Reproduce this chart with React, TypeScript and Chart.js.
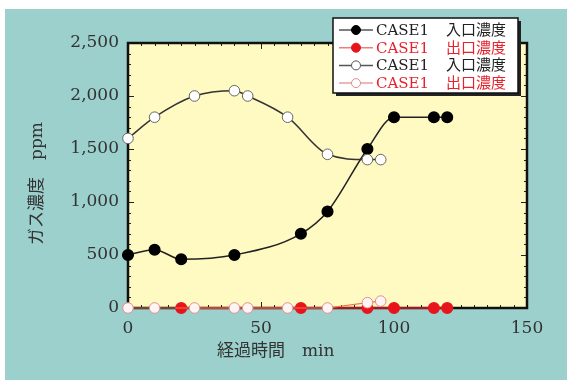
import React, { useEffect, useRef } from "react";
import { Chart, registerables } from "chart.js";

Chart.register(...registerables);

// ---- data ----
const inlet1Times = [0, 10, 20, 40, 65, 75, 90, 100, 115, 120];
const inlet1Values = [500, 550, 460, 500, 700, 910, 1500, 1800, 1800, 1800];
const outlet1Times = [20, 65, 90, 100, 115, 120];
const outlet1Values = [0, 0, 0, 0, 0, 0];
const inlet2Times = [0, 10, 25, 40, 45, 60, 75, 90, 95];
const inlet2Values = [1600, 1800, 2000, 2050, 2000, 1800, 1450, 1400, 1400];
const outlet2Times = [0, 10, 25, 40, 45, 60, 75, 90, 95];
const outlet2Values = [0, 0, 0, 0, 0, 0, 0, 50, 65];

const seriesLabels = ["CASE1　入口濃度", "CASE1　出口濃度", "CASE1　入口濃度", "CASE1　出口濃度"];
const xTitle = "経過時間　min";
const yTitle = "ガス濃度　ppm";
const xMin = 0, xMax = 150, xStep = 50, xMinor = 5;
const yMin = 0, yMax = 2500, yStep = 500, yMinor = 100;

const TEAL = "#9bd0cc";
const YELLOW = "#fff9c2";
const FONT = '"DejaVu Serif", "Noto Sans CJK JP", serif';
const RED_TEXT = "#e8212b";

const pts = (t: number[], v: number[]) => t.map((x, i) => ({ x, y: v[i] }));

const legendStyles = [
  { line: "#555555", fill: "#000000", stroke: "#000000", text: "#222222" },
  { line: "#e88080", fill: "#e8141c", stroke: "#e8141c", text: RED_TEXT },
  { line: "#555555", fill: "#ffffff", stroke: "#555555", text: "#222222" },
  { line: "#e8a0a0", fill: "#ffffff", stroke: "#e09090", text: RED_TEXT },
];

const framePlugin = {
  id: "frame",
  beforeDraw(chart: any) {
    const { ctx, width, height, chartArea: a } = chart;
    ctx.save();
    ctx.fillStyle = TEAL;
    ctx.fillRect(0, 0, width, height);
    ctx.fillStyle = YELLOW;
    ctx.fillRect(a.left, a.top, a.right - a.left, a.bottom - a.top);
    ctx.restore();
  },
  beforeDatasetsDraw(chart: any) {
    const { ctx, chartArea: a, scales } = chart;
    const xs = scales.x, ys = scales.y;
    ctx.save();
    ctx.strokeStyle = "#222";
    ctx.lineWidth = 1;
    ctx.beginPath();
    for (let v = xMin; v <= xMax; v += xMinor) {
      const p = Math.round(xs.getPixelForValue(v)) + 0.5;
      const len = v % xStep === 0 ? 6 : 3;
      ctx.moveTo(p, a.bottom); ctx.lineTo(p, a.bottom - len);
      ctx.moveTo(p, a.top); ctx.lineTo(p, a.top + len);
    }
    for (let v = yMin; v <= yMax; v += yMinor) {
      const p = Math.round(ys.getPixelForValue(v)) + 0.5;
      const len = v % yStep === 0 ? 6 : 3;
      ctx.moveTo(a.left, p); ctx.lineTo(a.left + len, p);
      ctx.moveTo(a.right, p); ctx.lineTo(a.right - len, p);
    }
    ctx.stroke();
    ctx.lineWidth = 2.5;
    ctx.strokeStyle = "#111";
    ctx.strokeRect(a.left, a.top, a.right - a.left, a.bottom - a.top);
    ctx.restore();
  },
  afterDraw(chart: any) {
    const { ctx, chartArea: a } = chart;
    ctx.save();
    // axis titles
    ctx.fillStyle = "#333";
    ctx.font = `17px ${FONT}`;
    ctx.textAlign = "center";
    ctx.textBaseline = "middle";
    ctx.fillText(xTitle, a.left + (a.right - a.left) * 0.37, a.bottom + 44);
    ctx.translate(33, (a.top + a.bottom) / 2 + 8);
    ctx.rotate(-Math.PI / 2);
    ctx.fillText(yTitle, 0, 0);
    ctx.restore();

    // legend
    ctx.save();
    const bx = a.right - 194, by = a.top - 25, bw = 185, bh = 75;
    ctx.fillStyle = "#222";
    ctx.fillRect(bx + 3, by + 3, bw, bh);
    ctx.fillStyle = "#fff";
    ctx.fillRect(bx, by, bw, bh);
    ctx.strokeStyle = "#111";
    ctx.lineWidth = 1.5;
    ctx.strokeRect(bx, by, bw, bh);
    ctx.font = `15px ${FONT}`;
    ctx.textBaseline = "middle";
    ctx.textAlign = "left";
    seriesLabels.forEach((lab, i) => {
      const st = legendStyles[i];
      const cy = by + 12 + i * 17.7;
      ctx.strokeStyle = st.line;
      ctx.lineWidth = 1.5;
      ctx.beginPath();
      ctx.moveTo(bx + 6, cy);
      ctx.lineTo(bx + 40, cy);
      ctx.stroke();
      ctx.beginPath();
      ctx.arc(bx + 23, cy, 4.5, 0, Math.PI * 2);
      ctx.fillStyle = st.fill;
      ctx.fill();
      ctx.lineWidth = 1;
      ctx.strokeStyle = st.stroke;
      ctx.stroke();
      const [a1, a2] = lab.split("　");
      ctx.fillStyle = st.text;
      ctx.fillText(a1, bx + 43, cy + 1);
      ctx.fillText(a2, bx + 113, cy + 1);
    });
    ctx.restore();
  },
};

export default function App() {
  const ref = useRef<HTMLCanvasElement>(null);
  useEffect(() => {
    if (!ref.current) return;
    const chart = new Chart(ref.current, {
      type: "line",
      data: {
        datasets: [
          {
            label: seriesLabels[0],
            data: pts(inlet1Times, inlet1Values),
            borderColor: "#222",
            borderWidth: 1.5,
            backgroundColor: "#000",
            pointBackgroundColor: "#000",
            pointBorderColor: "#000",
            pointRadius: 5.3,
            cubicInterpolationMode: "monotone",
            order: 2,
          },
          {
            label: seriesLabels[1],
            data: pts(outlet1Times, outlet1Values),
            borderColor: "#e8141c",
            borderWidth: 1.5,
            pointBackgroundColor: "#e8141c",
            pointBorderColor: "#e8141c",
            pointRadius: 5.3,
            tension: 0,
            order: 3,
          },
          {
            label: seriesLabels[2],
            data: pts(inlet2Times, inlet2Values),
            borderColor: "#333",
            borderWidth: 1.5,
            pointBackgroundColor: "#fff",
            pointBorderColor: "#666",
            pointBorderWidth: 1,
            pointRadius: 5.3,
            cubicInterpolationMode: "monotone",
            order: 1,
          },
          {
            label: seriesLabels[3],
            data: pts(outlet2Times, outlet2Values),
            borderColor: "#e8784a",
            borderWidth: 1.2,
            pointBackgroundColor: "#fff4f4",
            pointBorderColor: "#e09090",
            pointBorderWidth: 1,
            pointRadius: 5.3,
            tension: 0,
            order: 0,
          },
        ],
      },
      options: {
        responsive: false,
        animation: false,
        devicePixelRatio: 1,
        clip: false as any,
        layout: { padding: { left: 0, top: 34, right: 40, bottom: 0 } },
        plugins: { legend: { display: false }, tooltip: { enabled: false } },
        scales: {
          x: {
            type: "linear",
            min: xMin,
            max: xMax,
            grid: { display: false, drawTicks: false },
            border: { display: false },
            ticks: { stepSize: xStep, padding: 10, color: "#333", font: { family: FONT, size: 17 } },
            afterFit: (s: any) => { s.height = 72; },
          },
          y: {
            min: yMin,
            max: yMax,
            grid: { display: false, drawTicks: false },
            border: { display: false },
            ticks: {
              stepSize: yStep,
              padding: 9,
              color: "#333",
              font: { family: FONT, size: 17 },
              callback: (v: any) => Number(v).toLocaleString("en-US"),
            },
            afterFit: (s: any) => { s.width = 123; },
          },
        },
      },
      plugins: [framePlugin],
    });
    return () => chart.destroy();
  }, []);
  return (
    <div style={{ position: "absolute", left: 5, top: 9, width: 562, height: 371 }}>
      <canvas ref={ref} width={562} height={371} style={{ display: "block" }} />
    </div>
  );
}
